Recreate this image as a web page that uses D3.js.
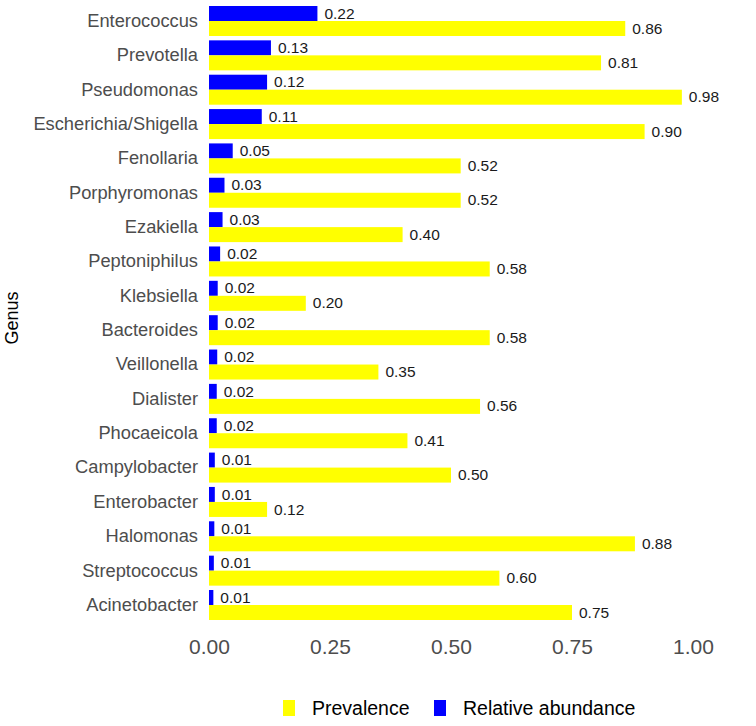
<!DOCTYPE html>
<html>
<head>
<meta charset="utf-8">
<script src="https://cdn.jsdelivr.net/npm/d3@7"></script>
<style>
  body { margin: 0; background: #fff; }
  svg { display: block; font-family: "Liberation Sans", Arial, Helvetica, sans-serif; }
</style>
</head>
<body>
<div id="chart"></div>
<script>
// genus, top to bottom
const genera = ["Enterococcus", "Prevotella", "Pseudomonas", "Escherichia/Shigella", "Fenollaria",
  "Porphyromonas", "Ezakiella", "Peptoniphilus", "Klebsiella", "Bacteroides", "Veillonella",
  "Dialister", "Phocaeicola", "Campylobacter", "Enterobacter", "Halomonas", "Streptococcus", "Acinetobacter"];

const relAbundance = [0.224, 0.128, 0.120, 0.109, 0.049, 0.032, 0.028, 0.023, 0.018, 0.018, 0.017,
  0.016, 0.016, 0.012, 0.012, 0.011, 0.010, 0.009];

const prevalence = [0.86, 0.81, 0.977, 0.90, 0.52, 0.52, 0.40, 0.58, 0.20, 0.58, 0.35,
  0.56, 0.41, 0.50, 0.12, 0.88, 0.60, 0.75];

const xTicks = [0, 0.25, 0.5, 0.75, 1.0];

const series = ["Relative abundance", "Prevalence"];
const colors = { "Prevalence": "#ffff00", "Relative abundance": "#0000ff" };
const legendOrder = ["Prevalence", "Relative abundance"];

const width = 756, height = 726;

const svg = d3.select("#chart")
  .append("svg")
  .attr("width", width)
  .attr("height", height);

const x = d3.scaleLinear()
  .domain([0, 1])
  .range([209, 693]);

const y = d3.scaleBand()
  .domain(genera)
  .range([6, 620])
  .paddingInner(0.127)
  .paddingOuter(0);

const ySub = d3.scaleBand()
  .domain(series)
  .range([0, y.bandwidth()]);

// long format table built from the arrays
const rows = [];
genera.forEach((g, i) => {
  rows.push({ genus: g, key: "Relative abundance", value: relAbundance[i] });
  rows.push({ genus: g, key: "Prevalence", value: prevalence[i] });
});

const plot = svg.append("g");

plot.selectAll("rect.bar")
  .data(rows)
  .join("rect")
  .attr("class", "bar")
  .attr("x", x(0))
  .attr("y", d => y(d.genus) + ySub(d.key))
  .attr("width", d => x(d.value) - x(0))
  .attr("height", ySub.bandwidth())
  .attr("fill", d => colors[d.key]);

plot.selectAll("text.val")
  .data(rows)
  .join("text")
  .attr("class", "val")
  .attr("x", d => x(d.value) + 7)
  .attr("y", d => y(d.genus) + ySub(d.key) + ySub.bandwidth() / 2)
  .attr("dy", "0.33em")
  .attr("font-size", 15.5)
  .attr("fill", "#1a1a1a")
  .text(d => d.value.toFixed(2));

// y axis (labels only)
const yAxis = svg.append("g")
  .attr("transform", `translate(${x(0) - 11},0)`)
  .call(d3.axisLeft(y).tickSize(0).tickPadding(0));
yAxis.select(".domain").remove();
yAxis.selectAll("text")
  .attr("font-size", 18.3)
  .attr("fill", "#4d4d4d")
  .attr("font-family", null);

// x axis (labels only)
const xAxis = svg.append("g")
  .attr("transform", `translate(0,634)`)
  .call(d3.axisBottom(x).tickValues(xTicks).tickFormat(d3.format(".2f")).tickSize(0).tickPadding(5));
xAxis.select(".domain").remove();
xAxis.selectAll("text")
  .attr("font-size", 21)
  .attr("fill", "#4d4d4d")
  .attr("font-family", null);

svg.append("text")
  .attr("transform", "translate(18,318) rotate(-90)")
  .attr("text-anchor", "middle")
  .attr("font-size", 18)
  .attr("fill", "#000")
  .text("Genus");

// legend
const legend = svg.append("g").attr("transform", "translate(283,700)");
const lx = [0, 151];
legendOrder.forEach((k, i) => {
  const g = legend.append("g").attr("transform", `translate(${lx[i]},0)`);
  g.append("rect")
    .attr("width", 12)
    .attr("height", 16)
    .attr("fill", colors[k]);
  g.append("text")
    .attr("x", 29)
    .attr("y", 15)
    .attr("font-size", 19.5)
    .attr("fill", "#000")
    .text(k);
});
</script>
</body>
</html>
